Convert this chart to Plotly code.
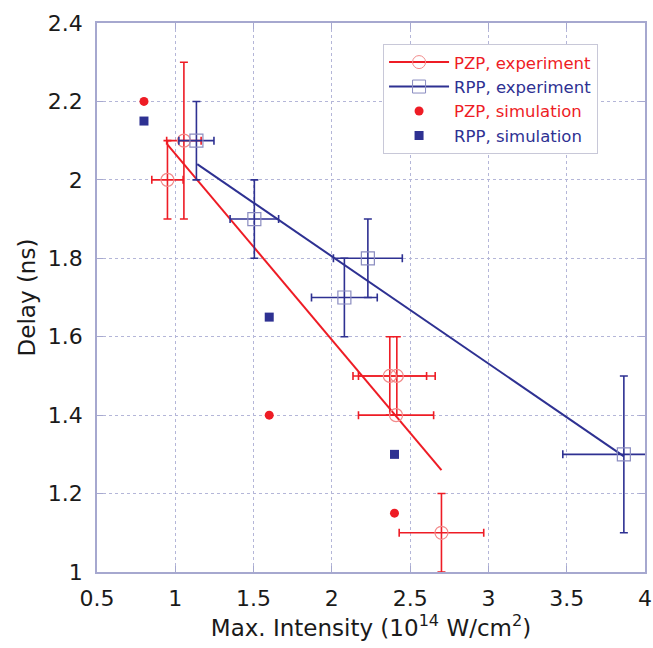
import plotly.graph_objects as go

# ---- data ----
pzp_x = [0.95, 1.055, 2.37, 2.415, 2.41, 2.70]
pzp_y = [2.0, 2.1, 1.5, 1.5, 1.4, 1.1]
pzp_xerr = [0.1, 0.11, 0.235, 0.245, 0.24, 0.27]
pzp_yerr = [0.1, 0.2, 0.1, 0.1, 0.0, 0.1]

rpp_x = [1.135, 1.505, 2.08, 2.23, 3.865]
rpp_y = [2.1, 1.9, 1.7, 1.8, 1.3]
rpp_xerr = [0.112, 0.155, 0.21, 0.22, 0.39]
rpp_yerr = [0.1, 0.1, 0.1, 0.1, 0.2]

pzp_fit_x = [0.95, 2.70]
pzp_fit_y = [2.09, 1.26]
rpp_fit_x = [1.14, 3.865]
rpp_fit_y = [2.04, 1.295]

sim_x = [0.8, 1.6, 2.4]
pzp_sim_y = [2.2, 1.4, 1.15]
rpp_sim_y = [2.15, 1.65, 1.3]

RED = "#ee1c25"
RED_LIGHT = "#f28a8a"
BLUE = "#2e3192"
BLUE_LIGHT = "#8a8cc0"
FRAME = "#a6a8cf"
FONT = "DejaVu Sans, sans-serif"

fig = go.Figure()

# fit lines
fig.add_trace(go.Scatter(x=pzp_fit_x, y=pzp_fit_y, mode="lines",
                         line=dict(color=RED, width=2), showlegend=False))
fig.add_trace(go.Scatter(x=rpp_fit_x, y=rpp_fit_y, mode="lines",
                         line=dict(color=BLUE, width=2), showlegend=False))

# experiment points with error bars
fig.add_trace(go.Scatter(
    x=pzp_x, y=pzp_y, mode="markers", showlegend=False,
    marker=dict(symbol="circle-open", size=13, color=RED_LIGHT, line=dict(width=1.2)),
    error_x=dict(type="data", array=pzp_xerr, color=RED, thickness=1.6, width=4),
    error_y=dict(type="data", array=pzp_yerr, color=RED, thickness=1.6, width=4),
))
fig.add_trace(go.Scatter(
    x=rpp_x, y=rpp_y, mode="markers", showlegend=False,
    marker=dict(symbol="square-open", size=13, color=BLUE_LIGHT, line=dict(width=1.2)),
    error_x=dict(type="data", array=rpp_xerr, color=BLUE, thickness=1.6, width=4),
    error_y=dict(type="data", array=rpp_yerr, color=BLUE, thickness=1.6, width=4),
))

# simulation points
fig.add_trace(go.Scatter(x=sim_x, y=pzp_sim_y, mode="markers", showlegend=False,
                         marker=dict(symbol="circle", size=9, color=RED)))
fig.add_trace(go.Scatter(x=sim_x, y=rpp_sim_y, mode="markers", showlegend=False,
                         marker=dict(symbol="square", size=9, color=BLUE)))

# legend entries
fig.add_trace(go.Scatter(x=[None], y=[None], mode="lines+markers",
                         name=f'<span style="color:{RED}">PZP, experiment</span>',
                         line=dict(color=RED, width=2),
                         marker=dict(symbol="circle-open", size=13, color=RED_LIGHT)))
fig.add_trace(go.Scatter(x=[None], y=[None], mode="lines+markers",
                         name=f'<span style="color:{BLUE}">RPP, experiment</span>',
                         line=dict(color=BLUE, width=2),
                         marker=dict(symbol="square-open", size=13, color=BLUE_LIGHT)))
fig.add_trace(go.Scatter(x=[None], y=[None], mode="markers",
                         name=f'<span style="color:{RED}">PZP, simulation</span>',
                         marker=dict(symbol="circle", size=9, color=RED)))
fig.add_trace(go.Scatter(x=[None], y=[None], mode="markers",
                         name=f'<span style="color:{BLUE}">RPP, simulation</span>',
                         marker=dict(symbol="square", size=9, color=BLUE)))

axis_common = dict(
    showline=True, linecolor=FRAME, linewidth=1.5, mirror="ticks",
    ticks="inside", ticklen=6, tickcolor=FRAME, tickwidth=1,
    showgrid=True, gridcolor="#b4b6d8", griddash="dot", gridwidth=1.2,
    zeroline=False, tickfont=dict(family=FONT, size=22, color="#1a1a1a"),
)

fig.update_xaxes(range=[0.5, 4], dtick=0.5, tick0=0.5, ticklabelstandoff=6,
                 title=dict(text="Max. Intensity (10<sup>14</sup> W/cm<sup>2</sup>)",
                            font=dict(family=FONT, size=23, color="#1a1a1a"), standoff=2),
                 **axis_common)
fig.update_yaxes(range=[1, 2.4], dtick=0.2, tick0=1, ticklabelstandoff=8,
                 title=dict(text="Delay (ns)",
                            font=dict(family=FONT, size=23, color="#1a1a1a"), standoff=6),
                 **axis_common)

fig.update_layout(
    width=653, height=648,
    margin=dict(l=97, r=8, t=23, b=76, autoexpand=False),
    plot_bgcolor="white", paper_bgcolor="white",
    font=dict(family=FONT),
    legend=dict(x=0.522, y=0.962, xanchor="left", yanchor="top",
                bgcolor="white", bordercolor="#c8c8d8", borderwidth=1,
                font=dict(family=FONT, size=16.5), itemwidth=60,
                tracegroupgap=0),
)

fig.write_html("out.html")
